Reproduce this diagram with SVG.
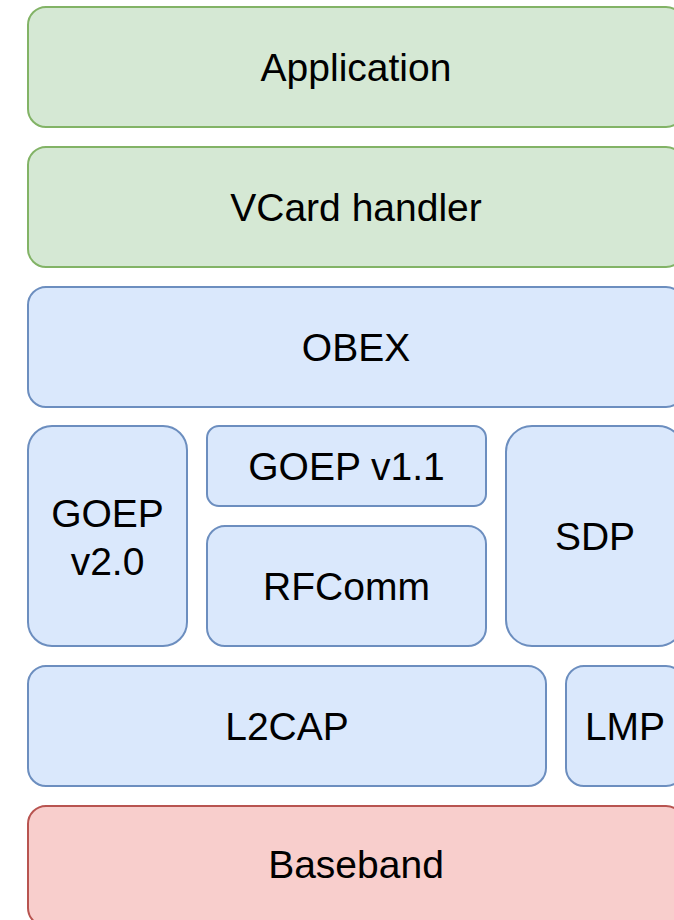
<svg xmlns="http://www.w3.org/2000/svg" width="674" height="920" viewBox="0 0 674 920">
  <style>
    .green { fill: #d5e8d4; stroke: #82b366; stroke-width: 2; }
    .blue { fill: #dae8fc; stroke: #6c8ebf; stroke-width: 2; }
    .red { fill: #f8cecc; stroke: #b85450; stroke-width: 2; }
    text { font-family: "Liberation Sans", Arial, sans-serif; font-size: 39px; fill: #000; text-anchor: middle; }
  </style>
  <rect width="674" height="920" fill="#ffffff"/>
  <g id="application">
    <rect class="green" x="28" y="7" width="656" height="120" rx="18"/>
    <text x="356" y="81">Application</text>
  </g>
  <g id="vcard-handler">
    <rect class="green" x="28" y="147" width="656" height="120" rx="18"/>
    <text x="356" y="221">VCard handler</text>
  </g>
  <g id="obex">
    <rect class="blue" x="28" y="287" width="656" height="120" rx="18"/>
    <text x="356" y="361">OBEX</text>
  </g>
  <g id="goep-v20">
    <rect class="blue" x="28" y="426" width="159" height="220" rx="24"/>
    <text x="107.5" y="527">GOEP</text>
    <text x="107.5" y="575">v2.0</text>
  </g>
  <g id="goep-v11">
    <rect class="blue" x="207" y="426" width="279" height="80" rx="12"/>
    <text x="346.5" y="480">GOEP v1.1</text>
  </g>
  <g id="rfcomm">
    <rect class="blue" x="207" y="526" width="279" height="120" rx="18"/>
    <text x="346.5" y="600">RFComm</text>
  </g>
  <g id="sdp">
    <rect class="blue" x="506" y="426" width="178" height="220" rx="26"/>
    <text x="595" y="550">SDP</text>
  </g>
  <g id="l2cap">
    <rect class="blue" x="28" y="666" width="518" height="120" rx="18"/>
    <text x="287" y="740">L2CAP</text>
  </g>
  <g id="lmp">
    <rect class="blue" x="566" y="666" width="118" height="120" rx="18"/>
    <text x="625" y="740">LMP</text>
  </g>
  <g id="baseband">
    <rect class="red" x="28" y="806" width="656" height="120" rx="18"/>
    <text x="356" y="878">Baseband</text>
  </g>
  <g id="connectors"/>
</svg>
